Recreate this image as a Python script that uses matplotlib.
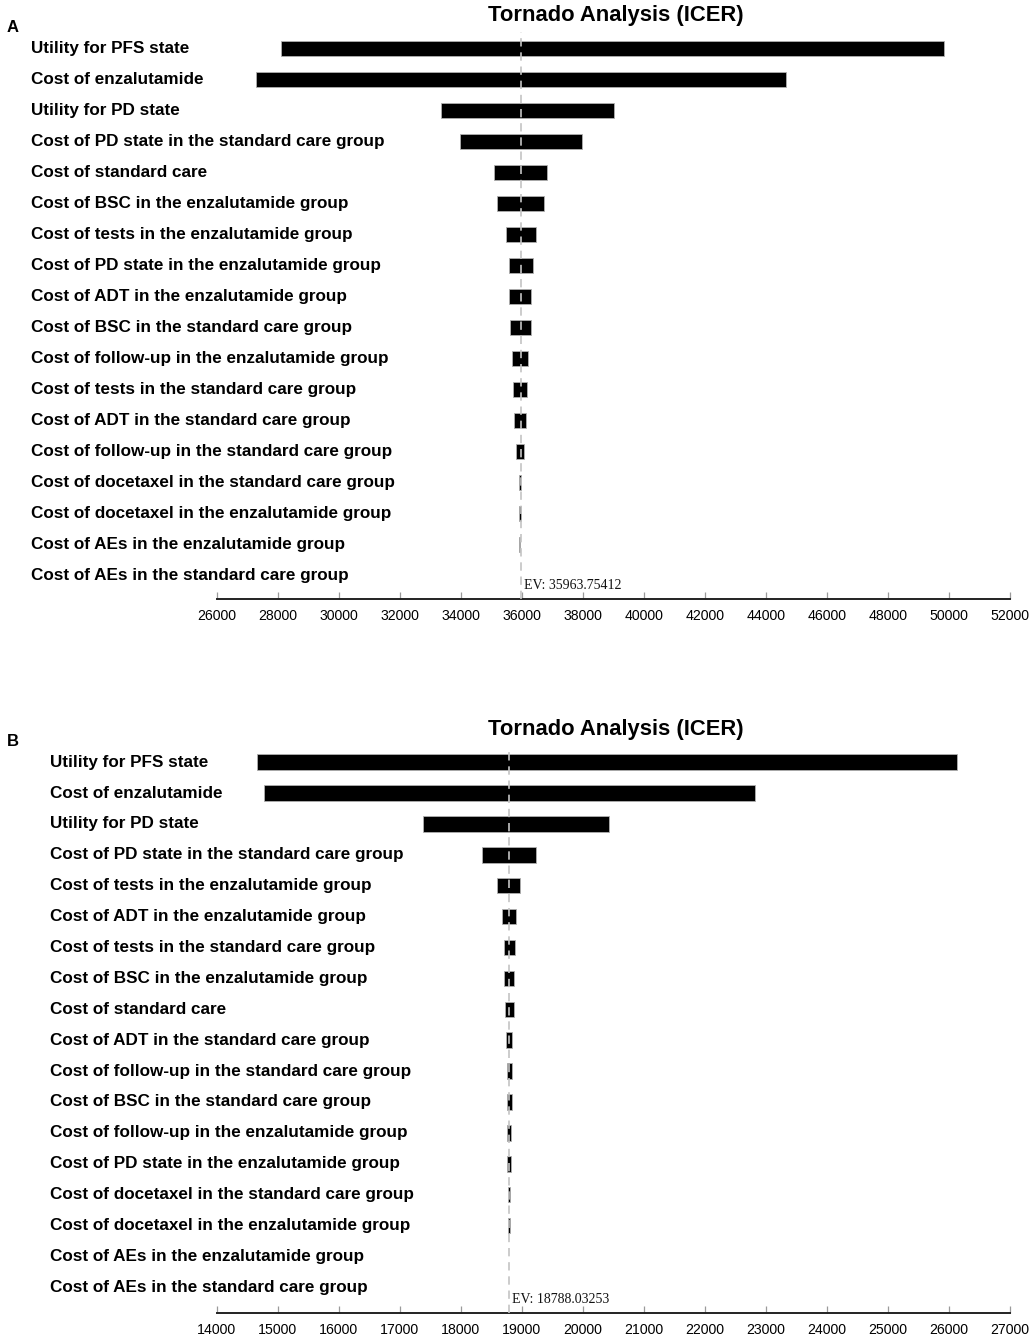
import matplotlib
matplotlib.use("Agg")
import matplotlib.pyplot as plt
import numpy as np

# ---------------- data ----------------
labels_a = [
    "Utility for PFS state",
    "Cost of enzalutamide",
    "Utility for PD state",
    "Cost of PD state in the standard care group",
    "Cost of standard care",
    "Cost of BSC in the enzalutamide group",
    "Cost of tests in the enzalutamide group",
    "Cost of PD state in the enzalutamide group",
    "Cost of ADT in the enzalutamide group",
    "Cost of BSC in the standard care group",
    "Cost of follow-up in the enzalutamide group",
    "Cost of tests in the standard care group",
    "Cost of ADT in the standard care group",
    "Cost of follow-up in the standard care group",
    "Cost of docetaxel in the standard care group",
    "Cost of docetaxel in the enzalutamide group",
    "Cost of AEs in the enzalutamide group",
    "Cost of AEs in the standard care group",
]
low_a = [28124, 27290, 33344, 33971, 35094, 35202, 35488, 35586, 35586,
         35619, 35695, 35728, 35760, 35826, 35925, 35925, 35915, 35963.75]
high_a = [49844, 44657, 39010, 37967, 36844, 36745, 36463, 36364, 36318,
          36318, 36220, 36187, 36144, 36069, 35980, 35980, 35958, 35963.75]
ev_a = 35963.75412
ticks_a = list(range(26000, 52001, 2000))

labels_b = [
    "Utility for PFS state",
    "Cost of enzalutamide",
    "Utility for PD state",
    "Cost of PD state in the standard care group",
    "Cost of tests in the enzalutamide group",
    "Cost of ADT in the enzalutamide group",
    "Cost of tests in the standard care group",
    "Cost of BSC in the enzalutamide group",
    "Cost of standard care",
    "Cost of ADT in the standard care group",
    "Cost of follow-up in the standard care group",
    "Cost of BSC in the standard care group",
    "Cost of follow-up in the enzalutamide group",
    "Cost of PD state in the enzalutamide group",
    "Cost of docetaxel in the standard care group",
    "Cost of docetaxel in the enzalutamide group",
    "Cost of AEs in the enzalutamide group",
    "Cost of AEs in the standard care group",
]
low_b = [14666, 14770, 17377, 18344, 18600, 18672, 18710, 18710, 18726,
         18743, 18759, 18759, 18759, 18759, 18780, 18780, 18788.03, 18788.03]
high_b = [26136, 22830, 20439, 19234, 18977, 18902, 18885, 18869, 18869,
          18846, 18836, 18836, 18820, 18820, 18813, 18813, 18788.03, 18788.03]
ev_b = 18788.03253
ticks_b = list(range(14000, 27001, 1000))

title_text = "Tornado Analysis (ICER)"

# ---------------- figure ----------------
W, H = 1033, 1339
fig = plt.figure(figsize=(W / 100, H / 100), dpi=100)

SANS = ["Liberation Sans", "Arial", "DejaVu Sans"]
SERIF = ["Liberation Serif", "Times New Roman", "DejaVu Serif"]


def px(x, y, w, h):
    return [x / W, 1 - (y + h) / H, w / W, h / H]


def panel(rect, labels, low, high, ev, ticks, xlim, ylim, label_x,
          title_y, letter, letter_y):
    ax = fig.add_axes(rect)
    n = len(labels)
    ypos = np.arange(n)
    low = np.asarray(low, float)
    high = np.asarray(high, float)
    widths = high - low
    lws = [0.6 if w > 0 else 0.0 for w in widths]
    ax.barh(ypos, widths, left=low, height=0.5, color="black",
            edgecolor="#b0b0b0", linewidth=lws, zorder=2)
    ax.axvline(ev, color="#c4c4c4", lw=1.2, ls=(0, (5, 3.5)), zorder=3)
    ax.set_xlim(*xlim)
    ax.set_ylim(*ylim)
    ax.set_yticks([])
    ax.set_xticks(ticks)
    ax.set_xticklabels([str(t) for t in ticks], fontfamily=SANS, fontsize=10.2)
    ax.tick_params(axis="x", direction="in", length=5, width=0.9,
                   color="#9a9a9a", pad=7)
    for s in ["top", "left", "right"]:
        ax.spines[s].set_visible(False)
    ax.spines["bottom"].set_linewidth(1.4)
    ax.spines["bottom"].set_color("#222222")
    ax.annotate(f"EV: {ev}", xy=(ev, 0), xycoords=("data", "axes fraction"),
                xytext=(2.5, 7.5), textcoords="offset points",
                ha="left", va="baseline", fontfamily=SERIF, fontsize=10,
                color="#111111")
    # category labels
    for i, lab in enumerate(labels):
        ax.annotate(lab, xy=(label_x / W, i), xycoords=(fig.transFigure, "data"),
                    ha="left", va="center", fontfamily=SANS, fontsize=12.3,
                    fontweight="bold", annotation_clip=False)
    fig.text(616 / W, 1 - title_y / H, title_text, ha="center", va="center",
             fontfamily=SANS, fontsize=15.8, fontweight="bold")
    fig.text(7 / W, 1 - letter_y / H, letter, ha="left", va="center",
             fontfamily=SANS, fontsize=12, fontweight="bold")
    return ax


# Panel A: top of axes 32 px, bottom (axis line) 599.3 px
panel(px(216.7, 32, 793, 567.3), labels_a, low_a, high_a, ev_a, ticks_a,
      (26000, 52000), (17.77, -0.53), 31, 15, "A", 27)

# Panel B: top 747 px, bottom 1313 px
panel(px(216.7, 747, 793, 566), labels_b, low_b, high_b, ev_b, ticks_b,
      (14000, 27000), (17.83, -0.49), 50, 729, "B", 742)

fig.savefig("out.png", dpi=100)
